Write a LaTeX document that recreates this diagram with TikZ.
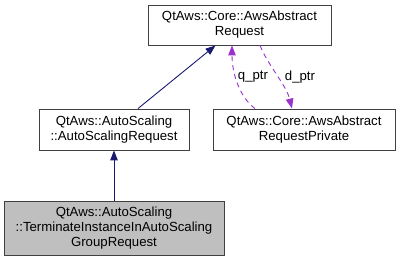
\documentclass[tikz,border=0pt]{standalone}
\usepackage{fontspec}
\setmainfont{Liberation Sans}
\usetikzlibrary{arrows.meta}
\definecolor{inherit}{HTML}{191970}
\definecolor{usage}{HTML}{9A32CD}
\definecolor{boxline}{HTML}{404040}
\definecolor{current}{HTML}{BFBFBF}
\begin{document}
\begin{tikzpicture}[x=1pt,y=-1pt,
  font=\fontsize{13.2}{15}\selectfont,
  cls/.style={draw=boxline,line width=0.9pt,fill=white,inner sep=0pt,align=center,
    minimum width=#1},
  inh/.style={draw=inherit,line width=0.9pt,-{Triangle[length=10pt,width=7.5pt]}},
  use/.style={draw=usage,line width=0.9pt,dashed,dash pattern=on 5pt off 4pt,
    -{Triangle[length=10pt,width=7.5pt]}},
  lbl/.style={inner sep=0pt,font=\fontsize{13.2}{15}\selectfont}]
\useasboundingbox (0,0) rectangle (400,261);
% classes
\node[cls=183pt,minimum height=40pt] (top) at (239.5,25)
  {QtAws::Core::AwsAbstract\\Request};
\node[cls=150pt,minimum height=41pt] (asr) at (114,129.5)
  {QtAws::AutoScaling\\::AutoScalingRequest};
\node[cls=182pt,minimum height=41pt] (priv) at (304,129.5)
  {QtAws::Core::AwsAbstract\\RequestPrivate};
\node[cls=220pt,minimum height=54pt,fill=current] (term) at (114,228)
  {QtAws::AutoScaling\\::TerminateInstanceInAutoScaling\\GroupRequest};
% inheritance
\draw[inh] (term.north) -- (asr.south);
\draw[inh] ([xshift=24pt]asr.north) -- ([xshift=-24pt]top.south);
% private pointers
\draw[use] ([xshift=-49pt]priv.north) .. controls +(-14,-10) and +(0,30) .. ([xshift=-7.5pt]top.south);
\draw[use] ([xshift=20.5pt]top.south) .. controls +(8,20) and +(-6,-24) .. ([xshift=-12pt]priv.north);
\node[lbl] (q) at (253,77) {q\_ptr};
\node[lbl] (d) at (300,77) {d\_ptr};
\end{tikzpicture}
\end{document}
